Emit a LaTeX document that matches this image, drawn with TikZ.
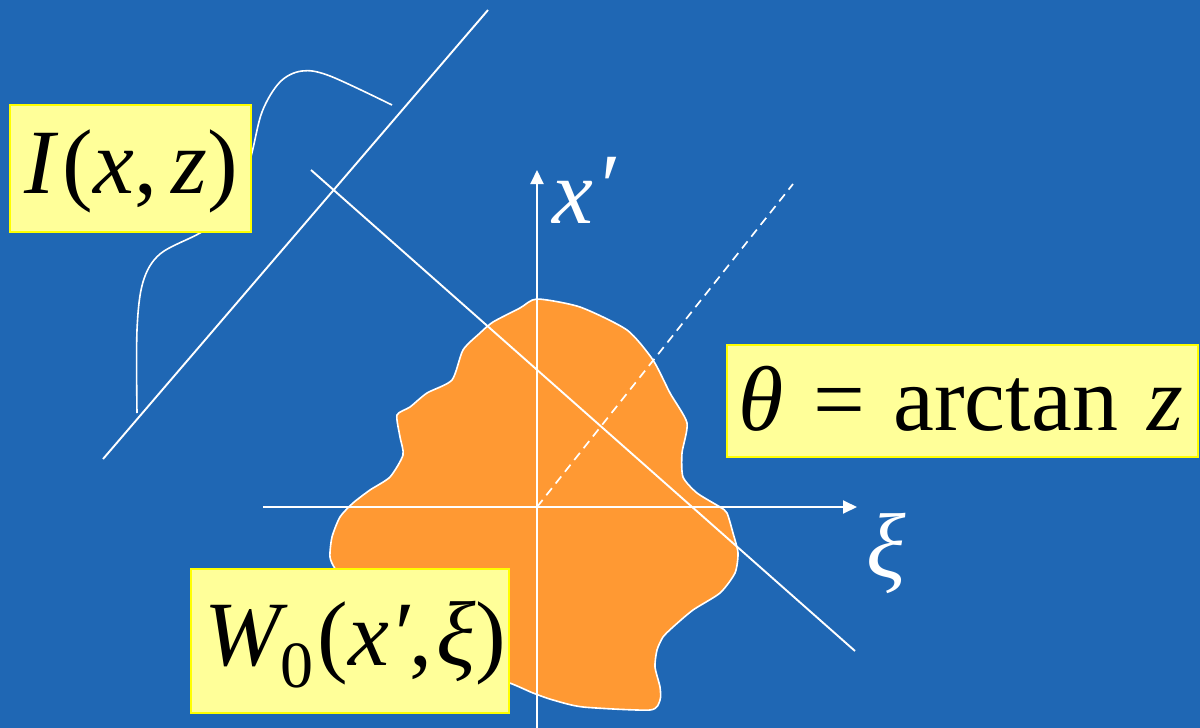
\documentclass[tikz,border=0pt]{standalone}
\usepackage{fontspec}
\setmainfont{Liberation Serif}
\usetikzlibrary{arrows.meta}
\definecolor{bg}{RGB}{31,103,180}
\definecolor{blobc}{RGB}{255,153,51}
\definecolor{boxfill}{RGB}{255,255,153}
\definecolor{boxedge}{RGB}{255,255,0}
\begin{document}
\begin{tikzpicture}[x=1pt,y=-1pt,
  wline/.style={white, line width=1.9pt},
  axis/.style={white, line width=1.9pt, -{Triangle[length=14pt,width=13pt]}},
  lbox/.style={draw=boxedge, fill=boxfill, line width=1.5pt, inner sep=0pt, anchor=north west},
  lbl/.style={inner sep=0pt, anchor=base west, font=\fontsize{92}{96}\selectfont},
]
\fill[bg] (0,0) rectangle (1200,728);
\useasboundingbox (0,0) rectangle (1200,728);

% Wigner distribution blob
\filldraw[fill=blobc, draw=white, line width=1.6pt] plot[smooth cycle, tension=0.4] coordinates {
 (537,299) (580,307) (627,330) (653,360) (670,393) (687,423) (682,453) (683,477)
 (697,493) (720,507) (727,513) (733,533) (738,553) (735,573) (720,593) (693,610)
 (673,627) (663,637) (657,650) (655,667) (660,687) (660,700) (650,710) (583,707)
 (553,700) (533,693) (507,682) (440,660) (360,600) (336,570) (330,557) (332,537)
 (340,517) (353,503) (370,490) (390,477) (403,455) (400,437) (397,415) (410,407)
 (427,393) (452,380) (463,350) (480,333) (493,322) (520,308)};

% named points
\coordinate (A1) at (103,459); \coordinate (A2) at (488,10);
\coordinate (B1) at (311,170); \coordinate (B2) at (855,651);
\coordinate (O) at (537,507);
\coordinate (Xtop) at (537,170); \coordinate (Xbot) at (537,728);
\coordinate (Xil) at (263,507); \coordinate (Xir) at (857,507);
\coordinate (D) at (793,184);

% axes
\draw[axis] (Xbot) -- (Xtop);
\draw[axis] (Xil) -- (Xir);
\draw[white, line width=1.7pt, dash pattern=on 9pt off 6pt] (O) -- (D);

% projection lines
\draw[wline] (A1) -- (A2);
\draw[wline] (B1) -- (B2);

% intensity profile
\draw[white, line width=1.6pt] plot[smooth, tension=0.55] coordinates {
 (137,413) (137,330) (143,282) (160,254) (200,233) (232,212) (250,160)
 (262,112) (280,82) (302,71) (330,76) (392,105)};

% label boxes
\node[lbox, minimum width=241pt, minimum height=127pt] (boxI) at (9,104) {};
\node[lbox, minimum width=471pt, minimum height=112pt] (boxT) at (726,344) {};
\node[lbox, minimum width=318pt, minimum height=144pt] (boxW) at (190,568) {};

% texts
\node[lbl] (tI) at (24,193) {\itshape I\upshape\kern8pt(\itshape x\upshape,\kern14pt\itshape z\upshape)};
\node[lbl] (tT) at (738,430) {\itshape θ\upshape\hspace{30pt}=\hspace{28pt}arctan\hspace{30pt}\itshape z};
\node[lbl] (tW) at (204,665) {\itshape W\upshape\raisebox{-22pt}{\fontsize{66}{70}\selectfont 0}\kern4pt(\itshape x′\upshape,\kern4pt\itshape ξ\upshape)};
\node[lbl, text=white] (tx) at (552,223) {\itshape x\kern2pt\raisebox{6pt}{′}};
\node[lbl, text=white] (txi) at (866,577) {\itshape ξ};
\end{tikzpicture}
\end{document}
